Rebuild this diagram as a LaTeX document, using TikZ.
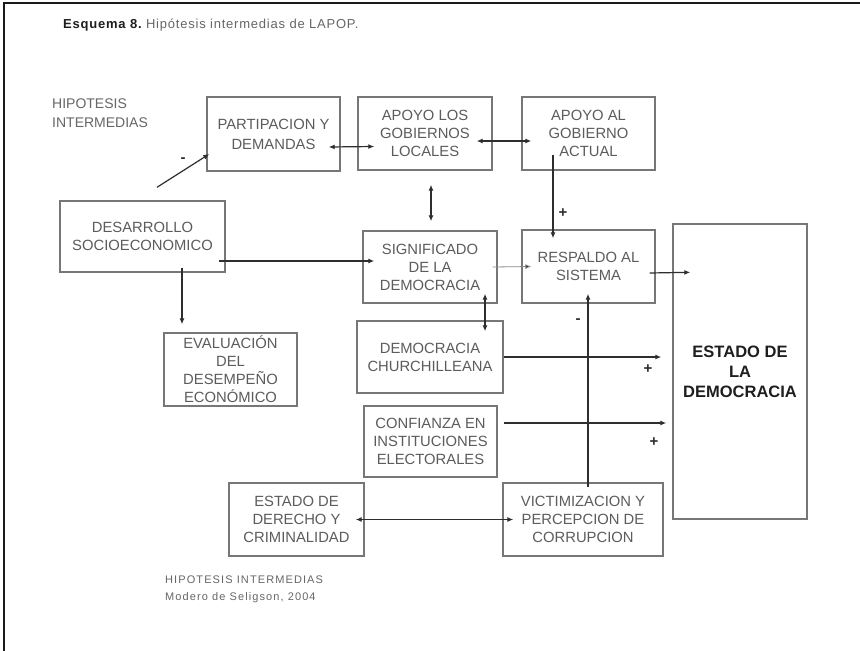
\documentclass[tikz,border=0pt]{standalone}
\usepackage{fontspec}
\setmainfont{Liberation Sans}
\usetikzlibrary{arrows.meta}

\definecolor{framec}{HTML}{1A1A1A}
\definecolor{boxc}{HTML}{777777}
\definecolor{txtc}{HTML}{5C5C5C}
\definecolor{arrc}{HTML}{2E2E2E}
\definecolor{thinc}{HTML}{8A8A8A}
\definecolor{lblc}{HTML}{666666}
\definecolor{bigc}{HTML}{1E1E1E}

\tikzset{
  bx/.style={draw=boxc, line width=1.4pt, rectangle, inner sep=0pt, align=center,
             text=txtc, font=\fontsize{14.8}{18}\selectfont},
  tip/.tip={Latex[length=6pt,width=5pt]},
  arr/.style={draw=arrc, line width=1.2pt, -tip},
  darr/.style={draw=arrc, line width=1.2pt, tip-tip},
  sign/.style={text=arrc, inner sep=0pt, font=\fontsize{15}{15}\selectfont\bfseries},
}

\begin{document}
\begin{tikzpicture}[x=1pt,y=-1pt]
\useasboundingbox (0,0) rectangle (860,651);
\fill[white] (0,0) rectangle (860,651);

% page frame (top and left edges)
\draw[framec, line width=2pt] (4,651) -- (4,3) -- (860,3);

% caption
\node[anchor=west, inner sep=0pt, font=\fontsize{13}{15}\selectfont\addfontfeature{LetterSpace=6}] (title) at (63,25)
  {\textcolor{bigc}{\bfseries Esquema 8.}\ \textcolor{lblc}{Hipótesis intermedias de LAPOP.}};

\node[anchor=west, inner sep=0pt, align=left, text=lblc, font=\fontsize{14}{19}\selectfont] (hip) at (52,113)
  {HIPOTESIS\\INTERMEDIAS};

% boxes
\node[bx, minimum width=133pt, minimum height=74pt] (part) at (273.5,134) {PARTIPACION Y\\[2pt]DEMANDAS};
\node[bx, minimum width=134pt, minimum height=73pt] (apl)  at (425,133.5) {APOYO LOS\\GOBIERNOS\\LOCALES};
\node[bx, minimum width=133pt, minimum height=73pt] (apa)  at (588.5,133.5) {APOYO AL\\GOBIERNO\\ACTUAL};
\node[bx, minimum width=165pt, minimum height=71pt] (des)  at (142.5,236.5) {DESARROLLO\\SOCIOECONOMICO};
\node[bx, minimum width=134pt, minimum height=72pt] (sig)  at (430,267) {SIGNIFICADO\\DE LA\\DEMOCRACIA};
\node[bx, minimum width=133pt, minimum height=73pt] (res)  at (588.5,266.5) {RESPALDO AL\\SISTEMA};
\node[bx, minimum width=134pt, minimum height=295pt, text=bigc,
      font=\fontsize{16.5}{20}\selectfont\bfseries] (est) at (740,371.5) {ESTADO DE\\LA\\DEMOCRACIA};
\node[bx, minimum width=133pt, minimum height=73pt] (eva)  at (230.5,369.5) {EVALUACIÓN\\DEL\\DESEMPEÑO\\ECONÓMICO};
\node[bx, minimum width=146pt, minimum height=72pt] (chu)  at (430,357) {DEMOCRACIA\\CHURCHILLEANA};
\node[bx, minimum width=133pt, minimum height=71pt] (con)  at (430.5,441.5) {CONFIANZA EN\\INSTITUCIONES\\ELECTORALES};
\node[bx, minimum width=135pt, minimum height=73pt] (der)  at (296.5,519.5) {ESTADO DE\\DERECHO Y\\CRIMINALIDAD};
\node[bx, minimum width=160pt, minimum height=73pt] (vic)  at (583,519.5) {VICTIMIZACION Y\\PERCEPCION DE\\CORRUPCION};

% connectors
\draw[arr]  ([xshift=14.5pt,yshift=13pt]des.north) -- ([xshift=3pt,yshift=-20pt]part.west);
\draw[darr] ([xshift=-12pt,yshift=-13pt]part.east) -- ([xshift=17pt,yshift=-13pt]apl.west);
\draw[darr] ([xshift=-16pt,yshift=-7.5pt]apl.east) -- ([xshift=10pt,yshift=-7.5pt]apa.west);
\draw[arr]  ([xshift=-35.5pt,yshift=16pt]apa.south) -- ([xshift=-35.5pt,yshift=-9pt]res.north);
\draw[darr] ([xshift=6pt,yshift=-14pt]apl.south) -- ([xshift=1pt,yshift=9pt]sig.north);
\draw[arr]  ([xshift=-7pt,yshift=-24.5pt]des.east) -- ([xshift=12pt,yshift=6pt]sig.west);
\draw[arr]  ([xshift=39.5pt,yshift=5pt]des.south) -- ([xshift=-48.5pt,yshift=8pt]eva.north);
\draw[draw=thinc, line width=0.8pt, -{Latex[length=6pt,width=5pt,fill=arrc]}]
            ([xshift=-5pt]sig.east) -- ([xshift=10pt]res.west);
\draw[arr]  ([xshift=-6pt,yshift=-6.5pt]res.east) -- ([xshift=18pt,yshift=-49pt]est.north west);
\draw[darr] ([xshift=55pt,yshift=10pt]sig.south) -- ([xshift=55pt,yshift=-11pt]chu.north);
\draw[arr]  (chu.east) -- ([xshift=-11pt,yshift=14.5pt]est.west);
\draw[arr]  ([xshift=6pt,yshift=18.5pt]con.east) -- ([xshift=-6pt,yshift=-51.5pt]est.west);
\draw[arr]  ([xshift=5pt,yshift=-5pt]vic.north) -- ([xshift=-0.5pt,yshift=10pt]res.south);
\draw[darr] ([xshift=-9pt]der.east) -- ([xshift=11pt]vic.west);

% signs on the links
\node[sign] (s1) at (183,160) {-};
\node[sign] (s2) at (563,213) {+};
\node[sign] (s3) at (578,321) {-};
\node[sign] (s4) at (648,369) {+};
\node[sign] (s5) at (654,442) {+};

% source note
\node[anchor=west, inner sep=0pt, align=left, text=lblc,
      font=\fontsize{11}{17}\selectfont\addfontfeature{LetterSpace=10}] (note) at (165,589)
  {HIPOTESIS INTERMEDIAS\\Modero de Seligson, 2004};
\end{tikzpicture}
\end{document}
